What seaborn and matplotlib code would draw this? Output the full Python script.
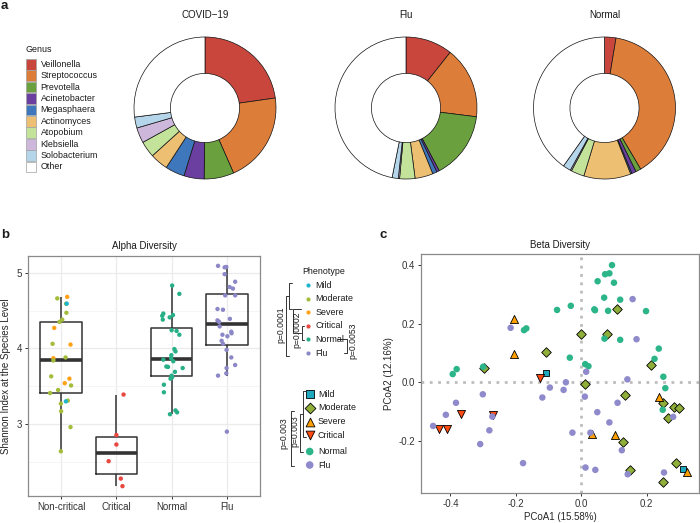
import matplotlib
matplotlib.use('Agg')
import matplotlib.pyplot as plt
from matplotlib.patches import Rectangle
from matplotlib.ticker import FormatStrFormatter
import seaborn as sns
import pandas as pd

# ---- panel a : genus composition ----
genera = ['Veillonella', 'Streptococcus', 'Prevotella', 'Acinetobacter', 'Megasphaera',
          'Actinomyces', 'Atopobium', 'Klebsiella', 'Solobacterium', 'Other']
genus_colors = ['#C9463D', '#DD7D3A', '#6BA03E', '#6B3FA0', '#3F77BC',
                '#EDBF72', '#C3E29A', '#CDB8DC', '#B5D5EA', '#FFFFFF']
pie_groups = ['COVID\u221219', 'Flu', 'Normal']
abund_covid = [22.8, 20.7, 6.8, 4.6, 4.4, 4.1, 3.7, 3.5, 2.5, 27.1]
abund_flu = [10.7, 16.3, 15.3, 0.6, 1.0, 4.1, 3.5, 0.3, 1.4, 46.9]
abund_normal = [2.6, 38.9, 1.2, 1.0, 0.3, 10.7, 3.0, 0.3, 1.8, 40.2]

# ---- panel b : alpha diversity ----
groups_b = ['Non-critical', 'Critical', 'Normal', 'Flu']
phenotypes = ['Mild', 'Moderate', 'Severe', 'Critical', 'Normal', 'Flu']
pheno_colors = {'Mild': '#1FB5CC', 'Moderate': '#A3BD3B', 'Severe': '#FFA21A',
                'Critical': '#E8483F', 'Normal': '#27B087', 'Flu': '#8C87C6'}

noncrit_shannon = [4.66, 4.68, 4.59, 4.59, 4.47, 4.38, 4.35, 4.27, 4.06, 4.05, 3.87, 3.84, 3.88,
                   3.63, 3.60, 3.54, 3.51, 3.45, 3.41, 3.31, 3.30, 3.27, 3.17, 2.96, 2.64]
noncrit_pheno = ['Moderate', 'Severe', 'Moderate', 'Mild', 'Moderate', 'Moderate', 'Moderate',
                 'Severe', 'Moderate', 'Severe', 'Severe', 'Moderate', 'Moderate', 'Moderate',
                 'Severe', 'Severe', 'Moderate', 'Moderate', 'Moderate', 'Moderate', 'Mild',
                 'Moderate', 'Moderate', 'Moderate', 'Moderate']
noncrit_jit = [-0.07, 0.11, 0.09, 0.10, 0.095, 0.02, -0.03, -0.125, -0.155, 0.17, -0.14, -0.14, 0.08,
               -0.18, 0.15, 0.065, 0.18, -0.055, -0.2, 0.12, 0.085, -0.005, 0.0, 0.17, -0.005]
crit_shannon = [3.39, 2.855, 2.73, 2.51, 2.28, 2.18]
crit_jit = [0.13, 0.0, 0.0, -0.14, 0.08, 0.11]
normal_shannon = [4.83, 4.72, 4.46, 4.43, 4.38, 4.41, 4.44, 4.24, 4.23, 4.18, 3.99, 3.96, 3.91, 3.87,
                  3.85, 3.83, 3.76, 3.755, 3.74, 3.69, 3.64, 3.62, 3.60, 3.52, 3.42, 3.18, 3.155, 3.13]
normal_jit = [0.01, 0.14, -0.15, -0.17, -0.16, -0.035, 0.025, 0.0, 0.09, 0.14, 0.05, 0.07, -0.005, -0.01,
              -0.15, 0.03, -0.095, -0.065, 0.2, 0.06, 0.0, 0.01, -0.02, -0.14, -0.14, 0.07, 0.1, -0.03]
flu_shannon = [5.09, 5.07, 5.075, 4.98, 4.88, 4.81, 4.79, 4.70, 4.70, 4.52, 4.51, 4.37, 4.35, 4.39,
               4.29, 4.22, 4.20, 4.16, 4.18, 4.10, 4.06, 3.98, 3.88, 3.78, 3.74, 3.67, 3.64, 2.90]
flu_jit = [-0.16, -0.04, -0.01, -0.04, 0.15, 0.05, 0.11, -0.03, 0.15, -0.17, -0.07, -0.17, -0.14, 0.055,
           -0.13, 0.08, 0.085, 0.01, -0.08, -0.095, -0.07, -0.005, 0.08, 0.15, -0.005, -0.01, -0.16, 0.0]

# ---- panel c : beta diversity (PCoA) ----
mild_pc1 = [-0.107, 0.310]
mild_pc2 = [0.031, -0.295]
moderate_pc1 = [0.109, 0.080, 0.0, -0.108, -0.296, 0.213, 0.010, 0.134, 0.250, 0.284, 0.300, 0.265,
                0.129, 0.149, 0.289, 0.250]
moderate_pc2 = [0.249, 0.165, 0.165, 0.105, 0.048, 0.058, -0.007, -0.045, -0.072, -0.085, -0.089, -0.122,
                -0.205, -0.298, -0.276, -0.341]
severe_pc1 = [-0.206, -0.206, 0.239, 0.034, 0.103, 0.322]
severe_pc2 = [0.215, 0.095, -0.051, -0.177, -0.180, -0.308]
critical_pc1 = [-0.125, -0.368, -0.269, -0.435, -0.409]
critical_pc2 = [0.014, -0.109, -0.111, -0.158, -0.158]
normal_pc1 = [0.094, 0.073, 0.086, 0.050, 0.100, 0.070, 0.119, -0.074, -0.032, 0.040, 0.042, 0.082, 0.198,
              -0.175, -0.168, 0.071, 0.119, 0.237, -0.035, 0.224, 0.012, 0.022, -0.381, -0.393, -0.300,
              0.251, 0.257, 0.249]
normal_pc2 = [0.400, 0.369, 0.372, 0.345, 0.340, 0.289, 0.282, 0.247, 0.261, 0.249, 0.246, 0.244, 0.243,
              0.178, 0.184, 0.149, 0.145, 0.115, 0.084, 0.080, 0.062, 0.055, 0.045, 0.028, 0.053,
              0.019, -0.020, -0.094]
flu_pc1 = [0.157, -0.216, 0.169, 0.015, 0.141, -0.047, -0.096, -0.054, -0.301, -0.119, 0.011, -0.383,
           -0.414, -0.272, 0.111, 0.049, -0.453, -0.281, -0.027, 0.028, 0.086, -0.309, 0.124, -0.178,
           0.013, 0.043, 0.253, 0.142, 0.281]
flu_pc2 = [0.284, 0.186, 0.147, 0.036, 0.010, 0.0, -0.018, -0.026, -0.041, -0.052, -0.049, -0.070,
           -0.111, -0.117, -0.070, -0.102, -0.149, -0.164, -0.172, -0.172, -0.137, -0.211, -0.232, -0.276,
           -0.291, -0.299, -0.308, -0.314, -0.118]
pcoa_colors = {'Mild': '#1FA9BF', 'Moderate': '#8FAE3A', 'Severe': '#FFA000', 'Critical': '#FF4A12',
               'Normal': '#2DB58A', 'Flu': '#8F8ACB'}
pcoa_markers = {'Mild': 's', 'Moderate': 'D', 'Severe': '^', 'Critical': 'v', 'Normal': 'o', 'Flu': 'o'}

sns.set_style('white')
plt.rcParams['font.family'] = ['Liberation Sans', 'DejaVu Sans']
plt.rcParams['axes.unicode_minus'] = False
plt.rcParams['text.color'] = '#1A1A1A'

W, H = 700, 523
fig = plt.figure(figsize=(7, 5.23), dpi=100)


def px_box(l, t, r, b):
    return [l / W, 1 - b / H, (r - l) / W, (b - t) / H]


# pies
for name, vals, cx in zip(pie_groups, [abund_covid, abund_flu, abund_normal], [205, 406, 604.5]):
    ax = fig.add_axes(px_box(cx - 75, 108 - 75, cx + 75, 108 + 75))
    ax.pie(vals, colors=genus_colors, startangle=90, counterclock=False, radius=1,
           wedgeprops=dict(width=0.513, edgecolor='#111111', linewidth=0.5))
    ax.set_xlim(-75 / 71, 75 / 71)
    ax.set_ylim(-75 / 71, 75 / 71)
    ax.set_aspect('equal')
    fig.text(cx / W, 1 - 15 / H, name, ha='center', va='center', fontsize=7)

# panel b
df_b = pd.DataFrame({
    'group': ['Non-critical'] * len(noncrit_shannon) + ['Critical'] * len(crit_shannon)
             + ['Normal'] * len(normal_shannon) + ['Flu'] * len(flu_shannon),
    'shannon': noncrit_shannon + crit_shannon + normal_shannon + flu_shannon,
    'phenotype': noncrit_pheno + ['Critical'] * len(crit_shannon) + ['Normal'] * len(normal_shannon)
                 + ['Flu'] * len(flu_shannon),
    'jit': noncrit_jit + crit_jit + normal_jit + flu_jit,
})
df_b['xpos'] = df_b['group'].map({g: i for i, g in enumerate(groups_b)}) + df_b['jit']

axb = fig.add_axes(px_box(28, 256, 260, 496))
sns.boxplot(data=df_b, x='group', y='shannon', order=groups_b, width=0.75, fill=False,
            color='#333333', linewidth=1.1, showcaps=False, showfliers=False,
            medianprops=dict(linewidth=2.6, color='#333333'), ax=axb)
sns.scatterplot(data=df_b, x='xpos', y='shannon', hue='phenotype', palette=pheno_colors,
                s=10, linewidth=0, legend=False, zorder=4, ax=axb)
axb.set_xlim(-0.6, 3.6)
axb.set_ylim(2.05, 5.22)
axb.set_xticks(range(len(groups_b)))
axb.set_xticklabels(groups_b)
axb.set_yticks([3, 4, 5])
axb.set_yticks([2.5, 3.5, 4.5], minor=True)
axb.grid(True, which='major', color='#EBEBEB', linewidth=0.9)
axb.grid(True, which='minor', axis='y', color='#F2F2F2', linewidth=0.5)
axb.set_axisbelow(True)
axb.set_xlabel('')
axb.set_ylabel('Shannon Index at the Species Level', fontsize=7, labelpad=4)
axb.set_title('Alpha Diversity', fontsize=7, pad=5)

# panel c
axc = fig.add_axes(px_box(421, 254, 699, 493))
axc.axvline(0, color='#BDBDBD', linewidth=2, linestyle=(0, (1, 2)), zorder=1)
axc.axhline(0, color='#BDBDBD', linewidth=2, linestyle=(0, (1, 2)), zorder=1)
pcoa_sets = [('Mild', mild_pc1, mild_pc2, 24), ('Moderate', moderate_pc1, moderate_pc2, 24),
             ('Severe', severe_pc1, severe_pc2, 34), ('Critical', critical_pc1, critical_pc2, 34),
             ('Normal', normal_pc1, normal_pc2, 22), ('Flu', flu_pc1, flu_pc2, 22)]
for grp, xs, ys, size in pcoa_sets:
    edge = 'none' if pcoa_markers[grp] == 'o' else 'black'
    sns.scatterplot(x=xs, y=ys, marker=pcoa_markers[grp], color=pcoa_colors[grp], s=size,
                    edgecolor=edge, linewidth=0.6, zorder=3, ax=axc)
axc.set_xlim(-0.49, 0.36)
axc.set_ylim(-0.378, 0.438)
axc.set_xticks([-0.4, -0.2, 0.0, 0.2])
axc.set_yticks([-0.2, 0.0, 0.2, 0.4])
axc.xaxis.set_major_formatter(FormatStrFormatter('%.1f'))
axc.yaxis.set_major_formatter(FormatStrFormatter('%.1f'))
axc.set_xlabel('PCoA1 (15.58%)', fontsize=7, labelpad=2)
axc.set_ylabel('PCoA2 (12.16%)', fontsize=7, labelpad=3)
axc.set_title('Beta Diversity', fontsize=7, pad=4)

for ax in (axb, axc):
    for sp in ax.spines.values():
        sp.set_color('#8A8A8A')
        sp.set_linewidth(0.9)
    ax.tick_params(which='major', length=2.5, width=0.7, color='#333333', labelsize=7,
                   labelcolor='#333333', pad=2, left=True, bottom=True)
    ax.tick_params(which='minor', length=0)

# overlay for legends, brackets and panel letters (pixel coordinates)
ov = fig.add_axes([0, 0, 1, 1], zorder=10)
ov.set_xlim(0, W)
ov.set_ylim(H, 0)
ov.axis('off')

ov.text(1, 6, 'a', fontsize=9.5, fontweight='bold', va='center', ha='left')
ov.text(1, 235, 'b', fontsize=9.5, fontweight='bold', va='center', ha='left')
ov.text(380, 235, 'c', fontsize=9.5, fontweight='bold', va='center', ha='left')

# genus legend
ov.text(25.5, 50, 'Genus', fontsize=6.4, va='center', ha='left')
for i, (g, c) in enumerate(zip(genera, genus_colors)):
    yc = 64.3 + i * 11.4
    ov.add_patch(Rectangle((25.7, yc - 5.4), 10, 10.8, facecolor=c, edgecolor='#A0A0A0', linewidth=0.5))
    ov.text(40.7, yc, g, fontsize=6.4, va='center', ha='left')

# phenotype legend (panel b)
ov.text(302.5, 271, 'Phenotype', fontsize=6.4, va='center', ha='left')
for i, p in enumerate(phenotypes):
    yc = 285 + i * 13.6
    ov.scatter([307.7], [yc], s=9, color=pheno_colors[p], linewidth=0)
    ov.text(315.7, yc, p, fontsize=6.4, va='center', ha='left')


def bracket(x, y0, y1, tick=2.5, color='#333333'):
    ov.plot([x + tick, x, x, x + tick], [y0, y0, y1, y1], color=color, linewidth=0.7)


bracket(289, 283, 309)
bracket(285.5, 296, 356, tick=3.5)
bracket(292.5, 309, 333, tick=8.5)
bracket(301.5, 326, 339.5)
ov.plot([337, 347, 347, 343.5], [339.3, 339.3, 353, 353], color='#333333', linewidth=0.7)
ov.text(280.5, 325, 'p=0.0001', fontsize=6.2, rotation=90, va='center', ha='center')
ov.text(297.2, 330, 'p=0.0002', fontsize=6.2, rotation=90, va='center', ha='center')
ov.text(352.5, 341, 'p=0.0053', fontsize=6.2, rotation=90, va='center', ha='center')

# shape legend (panel c)
shape_y = [394.3, 408, 421.5, 435, 451.5, 465]
for p, yc in zip(phenotypes, shape_y):
    mk = pcoa_markers[p]
    ov.scatter([309.7], [yc], s=40 if mk in '^v' else 30, marker=mk, color=pcoa_colors[p],
               edgecolor='none' if mk == 'o' else 'black', linewidth=0.6)
    ov.text(318, yc, p, fontsize=6.4, va='center', ha='left')
bracket(303.3, 391, 437)
bracket(291.3, 411, 466, tick=3)
bracket(299.7, 414, 452, tick=3.5)
ov.text(284, 433, 'p=0.003', fontsize=6.2, rotation=90, va='center', ha='center')
ov.text(294.7, 431, 'p=0.003', fontsize=6.2, rotation=90, va='center', ha='center')

fig.savefig('out.png', dpi=100)
